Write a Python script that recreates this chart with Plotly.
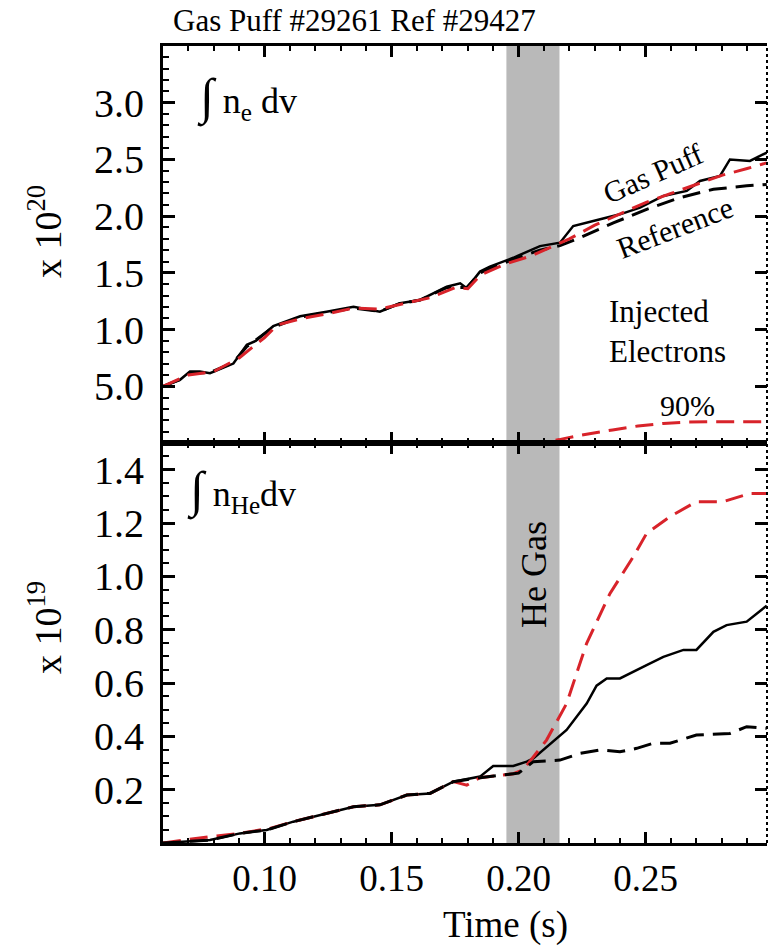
import plotly.graph_objects as go

# ---------------- data ----------------
# Top panel: integral of n_e dv (x 1e20)
t_ne_gas = [0.060, 0.0667, 0.0706, 0.0745, 0.0785, 0.0877, 0.093, 0.0965, 0.1034, 0.114, 0.1244, 0.135,
            0.1454, 0.1533, 0.1612, 0.1717, 0.177, 0.1796, 0.1848, 0.1887, 0.1979, 0.2084, 0.2163,
            0.2215, 0.2294, 0.2399, 0.2478, 0.257, 0.2662, 0.2714, 0.2793, 0.2832, 0.2911, 0.2977]
ne_gas = [0.50, 0.557, 0.63, 0.63, 0.616, 0.70, 0.866, 0.90, 1.03, 1.117, 1.158, 1.202,
          1.158, 1.232, 1.261, 1.378, 1.408, 1.364, 1.511, 1.555, 1.633, 1.736, 1.766,
          1.913, 1.957, 2.016, 2.075, 2.178, 2.222, 2.31, 2.355, 2.50, 2.487, 2.56]

t_ne_ref = [0.060, 0.0667, 0.0706, 0.0785, 0.0877, 0.093, 0.1034, 0.114, 0.1244, 0.135,
            0.1454, 0.1533, 0.1612, 0.1717, 0.1796, 0.1848, 0.1979, 0.2084, 0.2163,
            0.2242, 0.2373, 0.2504, 0.2635, 0.2767, 0.2898, 0.2977]
ne_ref = [0.50, 0.56, 0.62, 0.62, 0.71, 0.85, 1.02, 1.11, 1.15, 1.19,
          1.16, 1.23, 1.26, 1.37, 1.37, 1.50, 1.62, 1.70, 1.74,
          1.81, 1.94, 2.06, 2.163, 2.237, 2.267, 2.28]

t_ne_sim = [0.060, 0.070, 0.080, 0.090, 0.100, 0.105, 0.115, 0.125, 0.135, 0.145, 0.155,
            0.165, 0.175, 0.180, 0.185, 0.195, 0.205, 0.210, 0.220, 0.230, 0.240, 0.250,
            0.260, 0.270, 0.280, 0.290, 0.2977]
ne_sim = [0.50, 0.60, 0.63, 0.75, 0.93, 1.04, 1.10, 1.14, 1.19, 1.18, 1.23,
          1.28, 1.37, 1.36, 1.48, 1.58, 1.65, 1.70, 1.80, 1.92, 2.02, 2.12,
          2.20, 2.28, 2.36, 2.42, 2.47]

t_inj = [0.204, 0.210, 0.216, 0.225, 0.237, 0.247, 0.257, 0.265, 0.275, 0.2977]
inj = [0.0, 0.01, 0.03, 0.07, 0.115, 0.15, 0.172, 0.183, 0.188, 0.188]

# Bottom panel: integral of n_He dv (x 1e19)
t_he_gas = [0.060, 0.0785, 0.0903, 0.1008, 0.1113, 0.1218, 0.135, 0.1454, 0.156, 0.1651,
            0.1743, 0.1848, 0.190, 0.1979, 0.2032, 0.2058, 0.2189, 0.2268, 0.2307, 0.2347,
            0.2399, 0.2504, 0.257, 0.2649, 0.270, 0.2767, 0.2819, 0.2898, 0.2977]
he_gas = [0.0, 0.011, 0.036, 0.049, 0.08, 0.105, 0.136, 0.143, 0.18, 0.186,
          0.23, 0.249, 0.289, 0.289, 0.305, 0.317, 0.424, 0.523, 0.59, 0.617,
          0.617, 0.667, 0.698, 0.724, 0.724, 0.792, 0.817, 0.83, 0.89]

t_he_ref = [0.060, 0.0785, 0.0903, 0.1008, 0.1113, 0.1218, 0.135, 0.1454, 0.156, 0.1651,
            0.1743, 0.1848, 0.194, 0.200, 0.2058, 0.2163, 0.2242, 0.2321, 0.2399, 0.2465,
            0.253, 0.2596, 0.270, 0.2832, 0.2898, 0.2977]
he_ref = [0.0, 0.011, 0.036, 0.049, 0.08, 0.105, 0.136, 0.143, 0.18, 0.186,
          0.23, 0.245, 0.255, 0.262, 0.305, 0.311, 0.336, 0.349, 0.342, 0.355,
          0.374, 0.374, 0.405, 0.411, 0.436, 0.43]

t_he_sim = [0.060, 0.0785, 0.0903, 0.1021, 0.1113, 0.1218, 0.135, 0.1454, 0.156, 0.1651,
            0.1743, 0.1796, 0.1848, 0.194, 0.198, 0.2018, 0.211, 0.2189, 0.2268, 0.236,
            0.2452, 0.2504, 0.2596, 0.270, 0.2806, 0.2911, 0.2977]
he_sim = [0.0, 0.024, 0.036, 0.055, 0.08, 0.105, 0.136, 0.143, 0.18, 0.186,
          0.23, 0.217, 0.245, 0.255, 0.26, 0.274, 0.386, 0.523, 0.749, 0.936,
          1.074, 1.161, 1.224, 1.28, 1.28, 1.311, 1.311]

he_gas_window = [0.1952, 0.2161]

top_ticks = [0.5, 1.0, 1.5, 2.0, 2.5, 3.0]
top_ticktext = ["5.0", "1.0", "1.5", "2.0", "2.5", "3.0"]
bot_ticks = [0.2, 0.4, 0.6, 0.8, 1.0, 1.2, 1.4]
bot_ticktext = ["0.2", "0.4", "0.6", "0.8", "1.0", "1.2", "1.4"]
x_ticks = [0.10, 0.15, 0.20, 0.25]
x_ticktext = ["0.10", "0.15", "0.20", "0.25"]

# ---------------- figure ----------------
RED = "#d8232a"
FONT = "Liberation Serif, Times New Roman, serif"
W, H = 769, 947
L, R, T, B = 163, 2, 46, 104
PW, PH = W - L - R, H - T - B
XR = [0.06, 0.2978]


def px(xp):
    return (xp - L) / PW


def py(yp):
    return (H - B - yp) / PH


split = py(443)

fig = go.Figure()
dash = "18px,9px"

# top panel
fig.add_trace(go.Scatter(x=t_ne_ref, y=ne_ref, mode="lines", line=dict(color="black", width=3, dash=dash),
                         xaxis="x", yaxis="y", showlegend=False))
fig.add_trace(go.Scatter(x=t_ne_gas, y=ne_gas, mode="lines", line=dict(color="black", width=2.5),
                         xaxis="x", yaxis="y", showlegend=False))
fig.add_trace(go.Scatter(x=t_ne_sim, y=ne_sim, mode="lines", line=dict(color=RED, width=3, dash=dash),
                         xaxis="x", yaxis="y", showlegend=False))
fig.add_trace(go.Scatter(x=t_inj, y=inj, mode="lines", line=dict(color=RED, width=3, dash=dash),
                         xaxis="x", yaxis="y3", showlegend=False))
# bottom panel
fig.add_trace(go.Scatter(x=t_he_ref, y=he_ref, mode="lines", line=dict(color="black", width=3, dash=dash),
                         xaxis="x2", yaxis="y4", showlegend=False))
fig.add_trace(go.Scatter(x=t_he_gas, y=he_gas, mode="lines", line=dict(color="black", width=2.5),
                         xaxis="x2", yaxis="y2", showlegend=False))
fig.add_trace(go.Scatter(x=t_he_sim, y=he_sim, mode="lines", line=dict(color=RED, width=3, dash=dash),
                         xaxis="x2", yaxis="y2", showlegend=False))

tickfont = dict(family=FONT, size=40, color="black")
xcommon = dict(range=XR, showline=True, linecolor="black", linewidth=3, mirror="ticks",
               ticks="inside", ticklen=11, tickwidth=2.5, tickcolor="black",
               tickvals=x_ticks, ticktext=x_ticktext, showgrid=False, zeroline=False,
               minor=dict(ticks="inside", ticklen=5, tickwidth=2, tickcolor="black", dtick=0.01, tick0=0.0, showgrid=False),
               tickfont=dict(family=FONT, size=37, color="black"))
ycommon = dict(showline=True, linecolor="black", linewidth=3, mirror=False,
               ticks="inside", ticklen=12, tickwidth=2.5, tickcolor="black",
               showgrid=False, zeroline=False, tickfont=tickfont, ticklabelstandoff=8)

fig.update_layout(
    width=W, height=H,
    margin=dict(l=L, r=R, t=T, b=B),
    paper_bgcolor="white", plot_bgcolor="white",
    font=dict(family=FONT, color="black"),
    xaxis=dict(**xcommon, domain=[0, 1], anchor="y", showticklabels=False, matches="x2"),
    xaxis2=dict(**xcommon, domain=[0, 1], anchor="y2", showticklabels=True, ticklabelstandoff=1),
    yaxis=dict(**ycommon, domain=[split, 1], anchor="x", range=[0, 3.5],
               tickvals=top_ticks, ticktext=top_ticktext,
               minor=dict(ticks="inside", ticklen=6, tickwidth=2, tickcolor="black", dtick=0.1, tick0=0.0, showgrid=False)),
    yaxis2=dict(**ycommon, domain=[0, split], anchor="x2", range=[0, 1.5],
                tickvals=bot_ticks, ticktext=bot_ticktext,
                minor=dict(ticks="inside", ticklen=6, tickwidth=2, tickcolor="black", dtick=0.05, tick0=0.0, showgrid=False)),
    yaxis3=dict(overlaying="y", side="right", anchor="x", range=[0, 3.5], showline=False,
                ticks="inside", ticklen=12, tickwidth=2.5, tickcolor="black", tickvals=top_ticks,
                showticklabels=False, showgrid=False, zeroline=False),
    yaxis4=dict(overlaying="y2", side="right", anchor="x2", range=[0, 1.5], showline=False,
                ticks="inside", ticklen=12, tickwidth=2.5, tickcolor="black", tickvals=bot_ticks,
                showticklabels=False, showgrid=False, zeroline=False),
)

# He gas puff window (grey band across both panels)
fig.add_shape(type="rect", xref="x2", yref="paper", x0=he_gas_window[0], x1=he_gas_window[1], y0=0, y1=1,
              fillcolor="#b9b9b9", line=dict(width=0), layer="below")
# dotted right border
fig.add_shape(type="line", xref="paper", yref="paper", x0=1, x1=1, y0=0, y1=1,
              line=dict(color="black", width=2, dash="dot"), layer="above")


def ann(text, xp, yp, size, angle=0, xanchor="center", yanchor="middle", align="center"):
    fig.add_annotation(text=text, xref="paper", yref="paper", x=px(xp), y=py(yp), showarrow=False,
                       textangle=angle, xanchor=xanchor, yanchor=yanchor, align=align,
                       font=dict(family=FONT, size=size, color="black"))


ann("Gas Puff #29261 Ref #29427", 354, 20, 31)
ann("<span style='font-size:50px'>∫</span> n<sub>e</sub> dv", 195, 98, 36, xanchor="left")
ann("<span style='font-size:50px'>∫</span> n<sub>He</sub>dv", 185, 490, 36, xanchor="left")
ann("Gas Puff", 652, 173, 30, angle=-24)
ann("Reference", 675, 227, 30, angle=-21)
ann("Injected<br>Electrons", 607, 331, 31, xanchor="left", align="left")
ann("90%", 687, 405, 30)
ann("He Gas", 534, 575, 36, angle=-90)
ann("x 10<sup>20</sup>", 45, 232, 38, angle=-90)
ann("x 10<sup>19</sup>", 45, 628, 38, angle=-90)
ann("Time (s)", 505, 925, 37)

fig.write_html("out.html", config={"displayModeBar": False},
               post_script=["document.body.style.margin='0';document.body.style.overflow='hidden';"])
